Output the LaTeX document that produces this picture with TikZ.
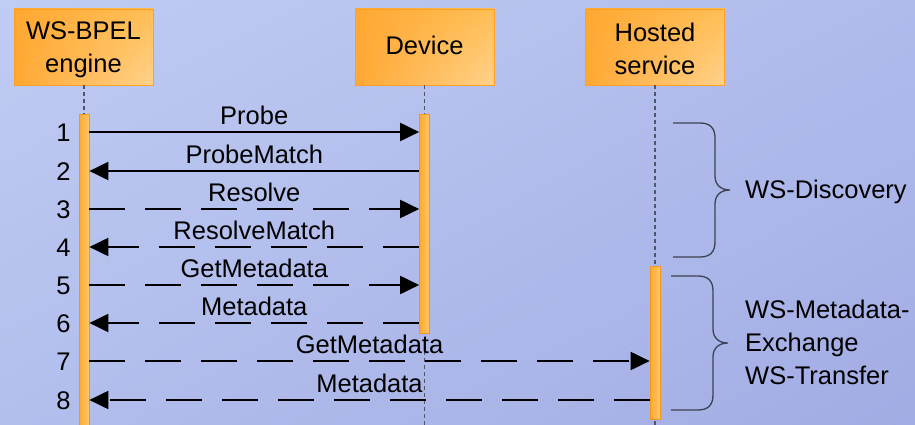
\documentclass[tikz,border=0pt]{standalone}
\usepackage{fontspec}
\setmainfont{Liberation Sans}
\usetikzlibrary{arrows.meta,shadings}

\definecolor{bgTL}{RGB}{192,204,243}
\definecolor{bgTR}{RGB}{176,187,236}
\definecolor{bgBL}{RGB}{178,190,236}
\definecolor{bgBR}{RGB}{162,172,228}
\definecolor{boxA}{RGB}{255,168,50}
\definecolor{boxB}{RGB}{255,190,85}
\definecolor{boxC}{RGB}{255,210,140}
\definecolor{boxLine}{RGB}{255,160,32}
\definecolor{barA}{RGB}{255,168,46}
\definecolor{barB}{RGB}{255,200,105}
\definecolor{barLine}{RGB}{242,150,28}
\definecolor{lifeGray}{RGB}{80,86,104}
\definecolor{braceGray}{RGB}{60,66,82}

% struts that nudge the participant labels inside their boxes
\newcommand\toppad{\rule{0pt}{22.3pt}}
\newcommand\botpad{\rule[-3pt]{0pt}{0pt}}

\tikzset{
  actor/.style={draw=boxLine, line width=0.8pt,
    upper left=boxA, lower left=boxA, upper right=boxB, lower right=boxC,
    minimum width=139pt, minimum height=76pt, align=center, inner sep=0pt},
  lifeline/.style={draw=lifeGray, line width=1.1pt, dash pattern=on 4pt off 3pt},
  actbar/.style={draw=barLine, line width=0.7pt, left color=barA, right color=barB,
    minimum width=10pt, inner sep=0pt, anchor=north},
  msg/.style={line width=2pt, black, -{Triangle[length=19pt,width=18pt]}},
  async/.style={msg, dash pattern=on 36pt off 20pt},
  lbl/.style={anchor=base, yshift=7.5pt, inner sep=0pt},
  num/.style={anchor=base east, yshift=-9pt, xshift=-8pt, inner sep=0pt},
  bracepen/.style={draw=braceGray, line width=1.3pt},
  pics/curly/.style={code={
    \draw[bracepen] (0,0) -- (27,0) .. controls (37,0) and (42,5) .. (42,15)
      -- (42,53) .. controls (42,62) and (48,67) .. (57,67)
      .. controls (48,67) and (42,72) .. (42,81)
      -- (42,119) .. controls (42,129) and (37,134) .. (27,134) -- (0,134);
  }}
}

\begin{document}
\begin{tikzpicture}[x=1pt, y=-1pt, font=\fontsize{25.5}{33}\selectfont]
\useasboundingbox (0,0) rectangle (915,425);
\shade[upper left=bgTL, upper right=bgTR, lower left=bgBL, lower right=bgBR]
  (0,0) rectangle (915,425);

% participants
\node[actor] (bpel)   at (83.5,47)  {\toppad WS-BPEL\\engine};
\node[actor] (device) at (424.5,47) {Device\botpad};
\node[actor] (hosted) at (655,47)   {\toppad Hosted\\service};

% lifeline ends at the bottom edge
\coordinate (bpelEnd)   at (84,425);
\coordinate (deviceEnd) at (424.5,425);
\coordinate (hostedEnd) at (655,425);
\draw[lifeline] (bpel.south -| bpelEnd) -- (bpelEnd);
\draw[lifeline] (device.south) -- (deviceEnd);
\draw[lifeline] (hosted.south) -- (hostedEnd);

% activation bars
\node[actbar, minimum height=316pt] (barE) at (84,114)    {};
\node[actbar, minimum height=219pt] (barD) at (424.5,114) {};
\node[actbar, minimum height=153pt] (barH) at (655,266)   {};

% message rows
\coordinate (r1) at (0,132);
\coordinate (r2) at (0,171);
\coordinate (r3) at (0,209);
\coordinate (r4) at (0,247);
\coordinate (r5) at (0,285);
\coordinate (r6) at (0,323);
\coordinate (r7) at (0,361);
\coordinate (r8) at (0,400);

\draw[msg]   (barE.east |- r1) -- node[lbl] {Probe}        (barD.west |- r1);
\draw[msg]   (barD.west |- r2) -- node[lbl] {ProbeMatch}   (barE.east |- r2);
\draw[async] (barE.east |- r3) -- node[lbl] {Resolve}      (barD.west |- r3);
\draw[async] (barD.west |- r4) -- node[lbl] {ResolveMatch} (barE.east |- r4);
\draw[async] (barE.east |- r5) -- node[lbl] {GetMetadata}  (barD.west |- r5);
\draw[async] (barD.west |- r6) -- node[lbl] {Metadata}     (barE.east |- r6);
\draw[async] (barE.east |- r7) -- node[lbl] {GetMetadata}  (barH.west |- r7);
\draw[async] (barH.west |- r8) -- node[lbl] {Metadata}     (barE.east |- r8);

% sequence numbers
\node[num] (n1) at (barE.west |- r1) {1};
\node[num] (n2) at (barE.west |- r2) {2};
\node[num] (n3) at (barE.west |- r3) {3};
\node[num] (n4) at (barE.west |- r4) {4};
\node[num] (n5) at (barE.west |- r5) {5};
\node[num] (n6) at (barE.west |- r6) {6};
\node[num] (n7) at (barE.west |- r7) {7};
\node[num] (n8) at (barE.west |- r8) {8};

% protocol groups
\pic at (673,123) {curly};
\pic at (671,276) {curly};
\node[anchor=base west, inner sep=0pt] (disc) at (745,198) {WS-Discovery};
\node[anchor=north west, align=left, inner sep=0pt] (mex) at (745,300)
  {WS-Metadata-\\Exchange\\WS-Transfer};
\end{tikzpicture}
\end{document}
